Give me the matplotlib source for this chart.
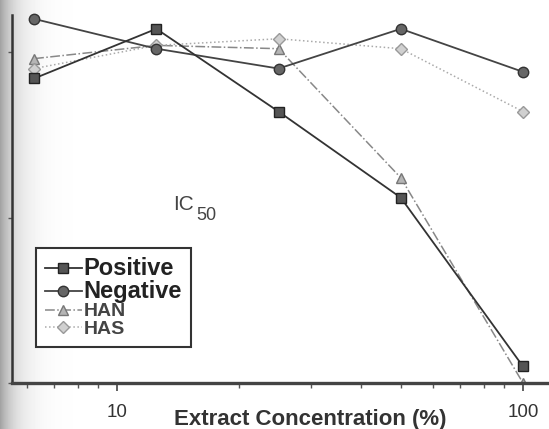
import numpy as np
import matplotlib
matplotlib.use('Agg')
import matplotlib.pyplot as plt
from matplotlib.ticker import NullFormatter

plt.rcParams['font.family'] = ['Liberation Sans', 'DejaVu Sans']

# extract concentration (%) and response values
conc = [6.25, 12.5, 25, 50, 100]
positive = [92, 107, 82, 56, 5]
negative = [110, 101, 95, 107, 94]
han = [98, 102, 101, 62, 0]
has = [95, 102, 104, 101, 82]

xtick_vals = [10, 100]
xtick_labels = ['10', '100']

W, H = 549, 429
fig = plt.figure(figsize=(W / 100, H / 100), dpi=100)
fig.patch.set_facecolor('white')

# scanner shading on the left edge
bg = fig.add_axes([0, 0, 1, 1], zorder=-5)
cols = np.arange(W)
shade = 1 - 0.36 * np.exp(-cols / 16.0)
bg.imshow(shade[None, :], cmap='gray', vmin=0, vmax=1, aspect='auto',
          extent=[0, 1, 0, 1])
bg.set_axis_off()

ax = fig.add_axes([12 / W, 1 - 383 / H, 1 - 12 / W, 383 / H])
ax.patch.set_alpha(0)

ax.plot(conc, positive, color='#333333', lw=1.3, marker='s', ms=7,
        mfc='#555555', mec='#222222', label='Positive', zorder=4)
ax.plot(conc, negative, color='#444444', lw=1.3, marker='o', ms=7.5,
        mfc='#666666', mec='#333333', label='Negative', zorder=3)
ax.plot(conc, han, color='#888888', lw=1.1, ls='-.', marker='^', ms=7.5,
        mfc='#b5b5b5', mec='#777777', label='HAN', zorder=2)
ax.plot(conc, has, color='#aaaaaa', lw=1.1, ls=':', marker='D', ms=6.5,
        mfc='#d0d0d0', mec='#999999', label='HAS', zorder=2)

ax.set_xscale('log')
dec = 406.0
ax.set_xlim(10 ** (1 - 105 / dec), 10 ** (2 + 26 / dec))
ax.set_ylim(0, 383 / 331 * 100)

ax.set_xticks(xtick_vals)
ax.set_xticklabels(xtick_labels)
ax.xaxis.set_minor_formatter(NullFormatter())
ax.tick_params(axis='x', which='major', direction='out', length=6, width=1.2,
               color='#444444', labelsize=13.5, labelcolor='#333333', pad=9)
ax.tick_params(axis='x', which='minor', direction='out', length=3.5, width=1,
               color='#555555')
ax.set_yticks([0, 50, 100])
ax.tick_params(axis='y', direction='out', length=3, width=1, color='#555555',
               labelleft=False)
ax.minorticks_on()
ax.yaxis.set_minor_locator(plt.NullLocator())

for s in ['top', 'right']:
    ax.spines[s].set_visible(False)
ax.spines['left'].set_color('#333333')
ax.spines['left'].set_linewidth(1.8)
ax.spines['left'].set_bounds(0, (383 - 15) / 331 * 100)
ax.spines['bottom'].set_color('#444444')
ax.spines['bottom'].set_linewidth(2.4)

fig.text(310 / W, 1 - 420 / H, 'Extract Concentration (%)', ha='center',
         va='center', fontsize=16, fontweight='bold', color='#333333')

fig.text(173 / W, 1 - 205 / H, 'IC', ha='left', va='center', fontsize=15,
         color='#444444')
fig.text(196 / W, 1 - 215 / H, '50', ha='left', va='center', fontsize=13,
         color='#444444')

leg = ax.legend(loc='upper left', bbox_to_anchor=(36 / W, 1 - 248 / H),
                bbox_transform=fig.transFigure, borderaxespad=0,
                fontsize=14, handlelength=1.9, handletextpad=0.1,
                borderpad=0.45, labelspacing=0.0, fancybox=False,
                framealpha=1, edgecolor='#333333')
leg.get_frame().set_linewidth(1.5)
texts = leg.get_texts()
for t in texts[:2]:
    t.set_fontsize(17)
    t.set_fontweight('bold')
    t.set_color('#222222')
for t in texts[2:]:
    t.set_fontweight('bold')
    t.set_color('#444444')

fig.savefig('out.png', dpi=100)
